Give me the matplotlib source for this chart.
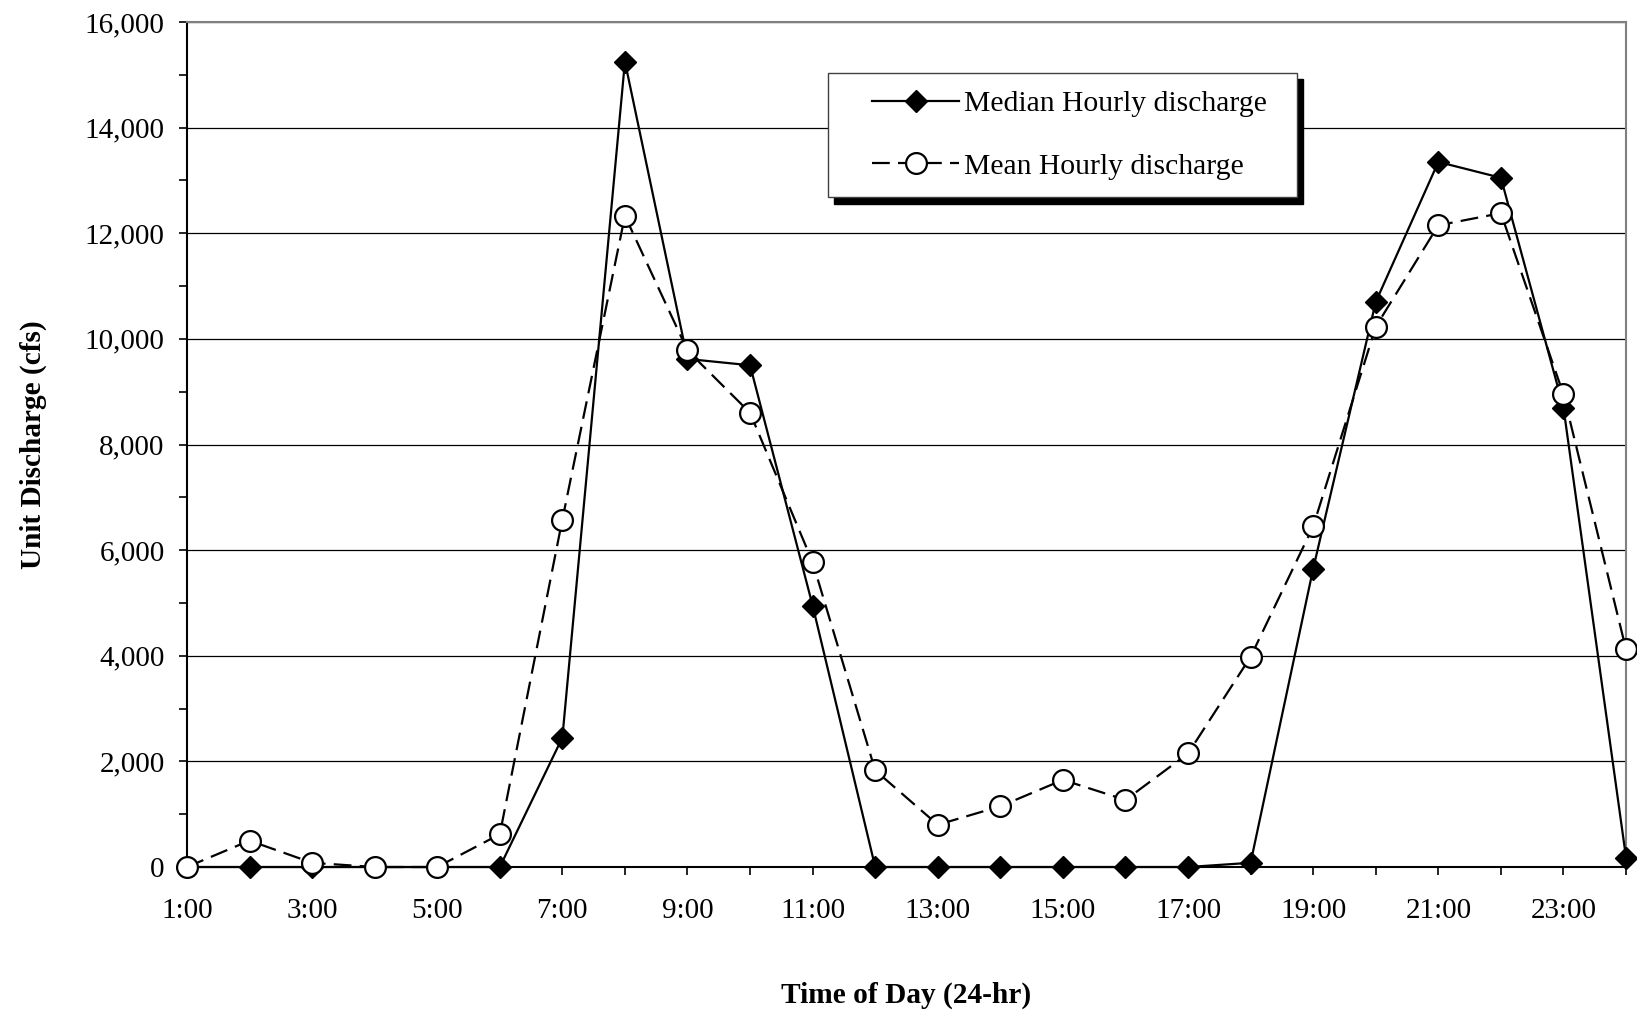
import matplotlib.pyplot as plt
from matplotlib.ticker import MultipleLocator, FixedLocator, StrMethodFormatter
from matplotlib.legend_handler import HandlerLine2D

# hourly discharge, hour 1 .. 24
hours = [1, 2, 3, 4, 5, 6, 7, 8, 9, 10, 11, 12,
         13, 14, 15, 16, 17, 18, 19, 20, 21, 22, 23, 24]
median_cfs = [0, 0, 0, 0, 0, 0, 2450, 15250, 9620, 9500, 4950, 0,
              0, 0, 0, 0, 0, 80, 5650, 10700, 13350, 13050, 8700, 180]
mean_cfs = [0, 500, 80, 0, 0, 620, 6580, 12330, 9780, 8600, 5770, 1830,
            800, 1150, 1650, 1270, 2150, 3980, 6450, 10230, 12150, 12380, 8950, 4120]

label_hours = [1, 3, 5, 7, 9, 11, 13, 15, 17, 19, 21, 23]
label_text = ["1:00", "3:00", "5:00", "7:00", "9:00", "11:00",
              "13:00", "15:00", "17:00", "19:00", "21:00", "23:00"]


class IndentedLine(HandlerLine2D):
    # legend line pushed right, leaving extra room inside the frame
    def __init__(self, indent, **kw):
        super().__init__(**kw)
        self.indent = indent

    def create_artists(self, legend, orig_handle, xdescent, ydescent,
                       width, height, fontsize, trans):
        return super().create_artists(legend, orig_handle, xdescent - self.indent,
                                      ydescent, width - self.indent, height,
                                      fontsize, trans)


plt.rcParams['font.family'] = ['Liberation Serif', 'DejaVu Serif']

fig = plt.figure(figsize=(16.37, 10.13), dpi=100)
ax = fig.add_axes([0.1142, 0.1441, 0.8791, 0.8342])

ax.plot(hours, median_cfs, color='black', lw=1.6, marker='D', ms=11.5,
        mfc='black', mec='black', clip_on=False, zorder=3,
        label='Median Hourly discharge')
ax.plot(hours, mean_cfs, color='black', lw=1.6, ls=(0, (8, 3.7)), marker='o',
        ms=15, mfc='white', mec='black', mew=1.6, clip_on=False, zorder=4,
        label='Mean Hourly discharge')

ax.set_xlim(1, 24)
ax.set_ylim(0, 16000)

ax.yaxis.set_major_locator(MultipleLocator(2000))
ax.yaxis.set_minor_locator(MultipleLocator(1000))
ax.yaxis.set_major_formatter(StrMethodFormatter('{x:,.0f}'))
ax.xaxis.set_major_locator(FixedLocator(label_hours))
ax.xaxis.set_minor_locator(FixedLocator([h for h in hours if h not in label_hours]))
ax.set_xticklabels(label_text)

ax.tick_params(which='both', direction='out', length=6, width=1.2, color='black')
ax.tick_params(axis='y', labelsize=21, pad=10)
ax.tick_params(axis='x', labelsize=21, pad=16)

ax.grid(axis='y', which='major', color='black', lw=0.9)
ax.set_axisbelow(True)

for side in ['left', 'bottom']:
    ax.spines[side].set_color('black')
    ax.spines[side].set_linewidth(1.5)
for side in ['top', 'right']:
    ax.spines[side].set_color('#808080')
    ax.spines[side].set_linewidth(1.5)

ax.set_ylabel('Unit Discharge (cfs)', fontsize=21.1, fontweight='bold', labelpad=27)
ax.set_xlabel('Time of Day (24-hr)', fontsize=21.2, fontweight='bold', labelpad=42)

handles, labels = ax.get_legend_handles_labels()
leg = ax.legend(handles, labels, loc='upper left',
                bbox_to_anchor=(0.4455, 0.9396, 0.326, 0.0), mode='expand',
                borderaxespad=0, fontsize=21.3, fancybox=False, framealpha=1,
                edgecolor='#404040', handlelength=3.83, handletextpad=0.15,
                labelspacing=1.2, borderpad=0.6,
                handler_map={h: IndentedLine(19) for h in handles},
                shadow={'ox': 4.5, 'oy': -4.5, 'color': 'black', 'alpha': 1})
leg.get_frame().set_linewidth(1.0)

fig.savefig('out.png', dpi=100)
